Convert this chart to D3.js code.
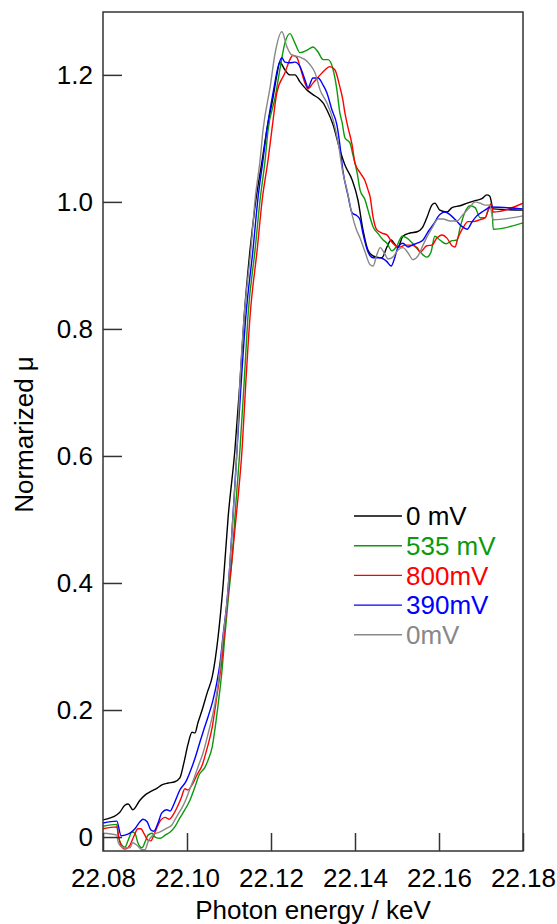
<!DOCTYPE html>
<html><head><meta charset="utf-8">
<script src="https://cdn.jsdelivr.net/npm/d3@7"></script>
<style>body{margin:0;background:#fff}svg{display:block}</style>
</head><body>
<svg id="chart" width="557" height="924"></svg>
<script>
// ---- data (energy keV, normalized mu) ----
const xTicks = [22.08, 22.10, 22.12, 22.14, 22.16, 22.18];
const yTicks = [0, 0.2, 0.4, 0.6, 0.8, 1.0, 1.2];
const seriesLabels = ["0 mV", "535 mV", "800mV", "390mV", "0mV"];

const black0mV = [
[22.0800,0.027],[22.0833,0.035],[22.0840,0.039],[22.0852,0.050],[22.0860,0.052],[22.0871,0.043],[22.0888,0.058],[22.0900,0.066],[22.0912,0.071],[22.0929,0.077],[22.0940,0.082],[22.0955,0.085],[22.0971,0.087],[22.0983,0.093],[22.0993,0.118],[22.1002,0.145],[22.1012,0.165],[22.1019,0.164],[22.1026,0.180],[22.1036,0.200],[22.1048,0.227],[22.1060,0.252],[22.1067,0.279],[22.1074,0.315],[22.1086,0.397],[22.1098,0.504],[22.1114,0.609],[22.1126,0.715],[22.1136,0.819],[22.1150,0.924],[22.1164,1.003],[22.1179,1.066],[22.1190,1.113],[22.1205,1.165],[22.1214,1.200],[22.1221,1.220],[22.1233,1.208],[22.1245,1.200],[22.1257,1.200],[22.1269,1.189],[22.1286,1.176],[22.1300,1.169],[22.1317,1.161],[22.1324,1.156],[22.1333,1.145],[22.1348,1.121],[22.1364,1.082],[22.1376,1.058],[22.1393,1.035],[22.1407,1.003],[22.1419,0.956],[22.1431,0.924],[22.1443,0.915],[22.1452,0.913],[22.1464,0.912],[22.1476,0.929],[22.1486,0.940],[22.1493,0.935],[22.1502,0.928],[22.1514,0.946],[22.1531,0.951],[22.1548,0.953],[22.1560,0.959],[22.1571,0.975],[22.1583,0.995],[22.1590,0.998],[22.1602,0.987],[22.1619,0.984],[22.1631,0.991],[22.1650,0.994],[22.1667,0.998],[22.1686,1.002],[22.1702,1.005],[22.1714,1.011],[22.1721,1.009],[22.1729,0.989],[22.1800,0.987]];

const green535mV = [
[22.0800,0.017],[22.0833,0.020],[22.0836,0.003],[22.0845,-0.013],[22.0852,-0.016],[22.0860,-0.005],[22.0869,0.008],[22.0876,0.006],[22.0883,-0.009],[22.0893,-0.017],[22.0900,-0.008],[22.0907,0.003],[22.0917,0.006],[22.0924,0.000],[22.0936,-0.002],[22.0948,0.003],[22.0960,0.008],[22.0971,0.016],[22.0983,0.030],[22.0995,0.043],[22.1007,0.058],[22.1019,0.079],[22.1029,0.098],[22.1043,0.110],[22.1050,0.121],[22.1060,0.142],[22.1067,0.172],[22.1074,0.208],[22.1083,0.260],[22.1090,0.315],[22.1098,0.373],[22.1107,0.436],[22.1117,0.531],[22.1126,0.609],[22.1136,0.715],[22.1145,0.819],[22.1162,0.924],[22.1174,1.003],[22.1186,1.066],[22.1193,1.113],[22.1210,1.165],[22.1221,1.208],[22.1233,1.250],[22.1245,1.265],[22.1257,1.250],[22.1269,1.235],[22.1286,1.239],[22.1300,1.244],[22.1312,1.236],[22.1324,1.224],[22.1336,1.224],[22.1348,1.208],[22.1357,1.176],[22.1364,1.140],[22.1369,1.126],[22.1376,1.101],[22.1388,1.093],[22.1395,1.074],[22.1405,1.046],[22.1412,1.019],[22.1424,1.003],[22.1431,0.987],[22.1443,0.961],[22.1455,0.950],[22.1467,0.940],[22.1476,0.935],[22.1488,0.923],[22.1500,0.931],[22.1512,0.946],[22.1524,0.943],[22.1538,0.934],[22.1555,0.921],[22.1571,0.913],[22.1581,0.921],[22.1590,0.946],[22.1602,0.940],[22.1617,0.934],[22.1631,0.939],[22.1643,0.940],[22.1650,0.959],[22.1660,0.981],[22.1674,0.994],[22.1686,0.991],[22.1698,0.975],[22.1710,0.975],[22.1717,0.987],[22.1726,0.994],[22.1729,0.957],[22.1800,0.967]];

const red800mV = [
[22.0800,0.013],[22.0833,0.016],[22.0838,-0.002],[22.0845,-0.016],[22.0852,-0.019],[22.0864,-0.013],[22.0874,0.002],[22.0883,0.013],[22.0890,0.013],[22.0898,0.005],[22.0907,-0.005],[22.0914,-0.006],[22.0921,0.003],[22.0929,0.016],[22.0938,0.027],[22.0948,0.031],[22.0957,0.028],[22.0967,0.035],[22.0976,0.046],[22.0986,0.061],[22.0995,0.076],[22.1002,0.074],[22.1012,0.082],[22.1024,0.098],[22.1036,0.113],[22.1048,0.140],[22.1060,0.173],[22.1067,0.203],[22.1074,0.235],[22.1083,0.279],[22.1090,0.329],[22.1098,0.384],[22.1107,0.436],[22.1121,0.531],[22.1131,0.609],[22.1140,0.715],[22.1150,0.819],[22.1167,0.924],[22.1179,1.003],[22.1193,1.066],[22.1202,1.113],[22.1214,1.172],[22.1233,1.203],[22.1245,1.224],[22.1252,1.231],[22.1262,1.227],[22.1269,1.213],[22.1281,1.187],[22.1288,1.178],[22.1300,1.187],[22.1317,1.200],[22.1329,1.208],[22.1340,1.213],[22.1352,1.208],[22.1364,1.181],[22.1371,1.161],[22.1376,1.140],[22.1383,1.118],[22.1393,1.090],[22.1400,1.061],[22.1412,1.046],[22.1424,1.033],[22.1431,1.019],[22.1436,1.008],[22.1443,0.976],[22.1452,0.956],[22.1464,0.951],[22.1476,0.948],[22.1490,0.935],[22.1507,0.929],[22.1519,0.932],[22.1531,0.932],[22.1548,0.928],[22.1555,0.921],[22.1571,0.931],[22.1583,0.932],[22.1595,0.943],[22.1607,0.948],[22.1619,0.943],[22.1631,0.931],[22.1638,0.929],[22.1645,0.943],[22.1657,0.959],[22.1669,0.969],[22.1681,0.969],[22.1698,0.972],[22.1710,0.975],[22.1717,0.987],[22.1724,0.997],[22.1729,0.984],[22.1800,0.998]];

const blue390mV = [
[22.0800,0.022],[22.0833,0.025],[22.0843,0.002],[22.0852,0.003],[22.0864,0.006],[22.0876,0.013],[22.0888,0.024],[22.0895,0.028],[22.0905,0.024],[22.0914,0.011],[22.0921,0.009],[22.0931,0.022],[22.0940,0.038],[22.0952,0.043],[22.0960,0.041],[22.0969,0.052],[22.0983,0.074],[22.0998,0.088],[22.1007,0.102],[22.1019,0.124],[22.1031,0.150],[22.1040,0.169],[22.1050,0.189],[22.1062,0.216],[22.1071,0.243],[22.1079,0.276],[22.1086,0.318],[22.1095,0.369],[22.1102,0.428],[22.1119,0.609],[22.1129,0.715],[22.1140,0.819],[22.1157,0.924],[22.1169,1.006],[22.1181,1.066],[22.1190,1.113],[22.1205,1.172],[22.1217,1.213],[22.1226,1.227],[22.1233,1.220],[22.1245,1.219],[22.1257,1.220],[22.1269,1.213],[22.1281,1.192],[22.1288,1.180],[22.1300,1.195],[22.1312,1.195],[22.1324,1.184],[22.1333,1.172],[22.1345,1.145],[22.1357,1.121],[22.1364,1.090],[22.1371,1.050],[22.1383,1.011],[22.1393,0.983],[22.1405,0.978],[22.1412,0.972],[22.1419,0.950],[22.1431,0.921],[22.1443,0.912],[22.1460,0.912],[22.1476,0.906],[22.1486,0.899],[22.1495,0.913],[22.1502,0.928],[22.1514,0.935],[22.1526,0.929],[22.1536,0.932],[22.1548,0.935],[22.1562,0.940],[22.1574,0.953],[22.1586,0.964],[22.1602,0.980],[22.1614,0.984],[22.1626,0.980],[22.1643,0.969],[22.1655,0.961],[22.1667,0.957],[22.1679,0.969],[22.1690,0.978],[22.1702,0.984],[22.1714,0.989],[22.1721,0.992],[22.1800,0.989]];

const gray0mV = [
[22.0800,0.006],[22.0833,0.003],[22.0836,-0.008],[22.0845,-0.016],[22.0852,-0.017],[22.0864,-0.017],[22.0871,-0.009],[22.0881,-0.013],[22.0893,-0.020],[22.0900,-0.020],[22.0907,-0.008],[22.0919,0.003],[22.0936,0.008],[22.0952,0.014],[22.0964,0.019],[22.0971,0.027],[22.0979,0.036],[22.0988,0.046],[22.0998,0.060],[22.1007,0.076],[22.1017,0.093],[22.1026,0.110],[22.1038,0.132],[22.1050,0.162],[22.1062,0.195],[22.1071,0.227],[22.1079,0.268],[22.1086,0.315],[22.1095,0.369],[22.1102,0.428],[22.1112,0.531],[22.1119,0.609],[22.1126,0.715],[22.1136,0.819],[22.1152,0.924],[22.1162,1.003],[22.1174,1.066],[22.1181,1.113],[22.1198,1.181],[22.1210,1.235],[22.1226,1.268],[22.1238,1.244],[22.1250,1.231],[22.1269,1.228],[22.1281,1.224],[22.1293,1.216],[22.1305,1.203],[22.1317,1.176],[22.1333,1.156],[22.1348,1.129],[22.1360,1.093],[22.1371,1.046],[22.1381,1.019],[22.1393,0.980],[22.1402,0.959],[22.1412,0.943],[22.1424,0.921],[22.1436,0.901],[22.1443,0.899],[22.1452,0.917],[22.1460,0.928],[22.1471,0.918],[22.1479,0.910],[22.1490,0.913],[22.1502,0.924],[22.1514,0.928],[22.1526,0.920],[22.1538,0.909],[22.1550,0.915],[22.1562,0.932],[22.1574,0.948],[22.1586,0.962],[22.1598,0.973],[22.1610,0.973],[22.1626,0.970],[22.1643,0.970],[22.1657,0.980],[22.1674,0.992],[22.1686,1.000],[22.1698,0.998],[22.1710,0.995],[22.1721,0.995],[22.1729,0.972],[22.1800,0.978]];

// ---- styling / layout ----
const seriesData = [black0mV, green535mV, red800mV, blue390mV, gray0mV];
const seriesColors = ["#000000", "#0a9a0a", "#ff0000", "#0000ff", "#888888"];
const W = 557, H = 924;
const m = {left: 103, top: 12, right: 34, bottom: 73};
const FONT = "'Liberation Sans', Arial, Helvetica, sans-serif";
const FS = 26;

const svg = d3.select("#chart");
const x = d3.scaleLinear().domain([22.08, 22.18]).range([m.left, W - m.right]);
const y = d3.scaleLinear().domain([-0.022, 1.299]).range([H - m.bottom, m.top]);

svg.append("defs").append("clipPath").attr("id", "clip")
  .append("rect").attr("x", m.left).attr("y", m.top)
  .attr("width", W - m.left - m.right).attr("height", H - m.top - m.bottom);

// lines
const line = d3.line().x(d => x(d[0])).y(d => y(d[1])).curve(d3.curveMonotoneX);
const g = svg.append("g").attr("clip-path", "url(#clip)");
seriesData.forEach((s, i) => {
  g.append("path").datum(s).attr("d", line)
    .attr("fill", "none").attr("stroke", seriesColors[i]).attr("stroke-width", 1.4)
    .attr("stroke-linejoin", "round");
});

// axes
const xAxis = d3.axisBottom(x).tickValues(xTicks).tickSize(-18).tickPadding(17.5)
  .tickFormat(d3.format(".2f"));
const gx = svg.append("g").attr("transform", `translate(0,${H - m.bottom})`).call(xAxis);
const yAxis = d3.axisLeft(y).tickValues(yTicks).tickSize(-19).tickPadding(10)
  .tickFormat(d => d === 0 ? "0" : d3.format(".1f")(d));
const gy = svg.append("g").attr("transform", `translate(${m.left},0)`).call(yAxis);
[gx, gy].forEach(a => {
  a.select(".domain").remove();
  a.selectAll(".tick line").attr("stroke", "#333").attr("stroke-width", 1.5);
  a.selectAll(".tick text").attr("font-family", FONT).attr("font-size", FS).attr("fill", "#000");
});

// frame
svg.append("rect").attr("x", m.left).attr("y", m.top)
  .attr("width", W - m.left - m.right).attr("height", H - m.top - m.bottom)
  .attr("fill", "none").attr("stroke", "#333").attr("stroke-width", 1.5);

// axis titles
svg.append("text").attr("x", (m.left + W - m.right) / 2).attr("y", 919)
  .attr("text-anchor", "middle").attr("font-family", FONT).attr("font-size", FS)
  .text("Photon energy / keV");
svg.append("text").attr("transform", `translate(33,${(m.top + H - m.bottom) / 2 + 3}) rotate(-90)`)
  .attr("text-anchor", "middle").attr("font-family", FONT).attr("font-size", FS)
  .text("Normarized μ");

// legend
const lg = svg.append("g").attr("transform", "translate(354,516)");
seriesLabels.forEach((lab, i) => {
  const row = lg.append("g").attr("transform", `translate(0,${i * 29.7})`);
  row.append("line").attr("x1", 0).attr("x2", 48).attr("y1", 0).attr("y2", 0)
    .attr("stroke", seriesColors[i]).attr("stroke-width", 1.4);
  row.append("text").attr("x", 52).attr("y", 0).attr("dy", "0.35em")
    .attr("font-family", FONT).attr("font-size", FS).attr("fill", seriesColors[i])
    .text(lab);
});
</script>
</body></html>
